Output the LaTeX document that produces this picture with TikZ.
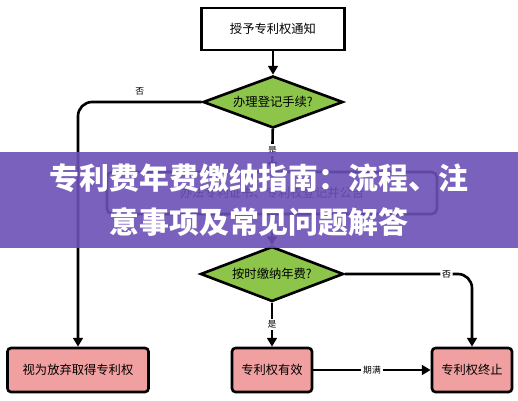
\documentclass[tikz,border=0pt]{standalone}
\usepackage{fontspec}
\setmainfont{Noto Sans CJK SC}
\usetikzlibrary{shapes.geometric, arrows.meta, positioning}
\definecolor{leafgreen}{RGB}{141,196,74}
\definecolor{rosepink}{RGB}{240,160,160}
\definecolor{bannerpurple}{RGB}{108,80,182}
\tikzset{
    base/.style={draw, line width=1.5pt, align=center, font=\fontsize{7}{8}\selectfont, fill=white, inner sep=0pt},
    process/.style={base, rectangle, minimum width=2.86cm, minimum height=0.84cm},
    result/.style={base, rectangle, rounded corners=2pt, minimum height=0.88cm, fill=rosepink},
    decision/.style={base, diamond, aspect=2.7, fill=leafgreen},
    arrow/.style={-{Triangle[length=5pt, width=5.5pt]}, line width=1.5pt, draw=black},
    tag/.style={font=\fontsize{5}{6}\selectfont, fill=white, inner sep=1pt},
    banner/.style={fill=bannerpurple, fill opacity=0.9, text opacity=1, text=white, align=center, font=\fontsize{17}{25}\selectfont\bfseries}
}

\begin{document}
\begin{tikzpicture}[x=0.02cm, y=-0.02cm]
    \useasboundingbox (0,0) rectangle (518,400);

    \node (grant) [process] at (273,29) {授予专利权通知};
    \node (reg) [decision, minimum width=2.8cm, minimum height=1.04cm] at (273,102) {办理登记手续?};
    \node (cert) [process, rounded corners=3pt, minimum width=6.6cm] at (272,193) {办法专利证书、专利权登记并公告};
    \node (pay) [decision, minimum width=2.86cm, minimum height=1.1cm] at (272,274) {按时缴纳年费?};
    \node (abandon) [result, minimum width=2.82cm] at (78,370) {视为放弃取得专利权};
    \node (valid) [result, minimum width=1.6cm] at (272,370) {专利权有效};
    \node (expire) [result, minimum width=1.6cm] at (472,370) {专利权终止};

    \draw [arrow] (grant) -- (reg);
    \draw [arrow, rounded corners=8pt] (reg.west) -| (abandon.north) node [tag, pos=0.25, above=2pt, fill=none] {否};
    \draw [arrow] (reg) -- node [tag] {是} (cert);
    \draw [arrow] (cert) -- (pay);
    \draw [arrow, rounded corners=8pt] (pay.east) -| (expire.north) node [tag, pos=0.4] {否};
    \draw [arrow] (pay) -- node [tag] {是} (valid);
    \draw [arrow] (valid) -- node [tag] {期满} (expire);

    \node (title) [banner, minimum width=10.36cm, minimum height=1.92cm] at (259,200) {专利费年费缴纳指南：流程、注\\意事项及常见问题解答};
\end{tikzpicture}
\end{document}
